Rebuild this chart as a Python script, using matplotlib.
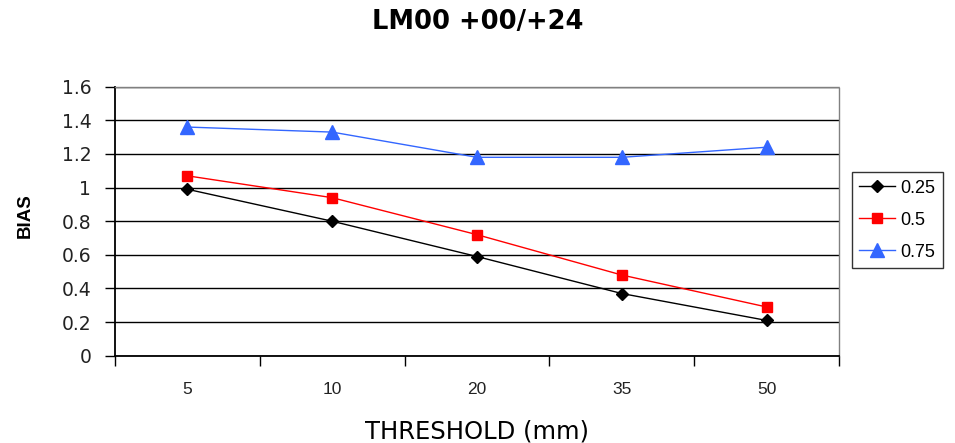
import matplotlib
matplotlib.use("Agg")
import matplotlib.pyplot as plt
from matplotlib.ticker import FixedLocator

plt.rcParams['font.family'] = ['Liberation Sans', 'DejaVu Sans']

thresholds = ["5", "10", "20", "35", "50"]
bias_025 = [0.99, 0.80, 0.59, 0.37, 0.21]
bias_050 = [1.07, 0.94, 0.72, 0.48, 0.29]
bias_075 = [1.36, 1.33, 1.18, 1.18, 1.24]
series_names = ["0.25", "0.5", "0.75"]
y_ticks = [0, 0.2, 0.4, 0.6, 0.8, 1.0, 1.2, 1.4, 1.6]
y_tick_labels = ["0", "0.2", "0.4", "0.6", "0.8", "1", "1.2", "1.4", "1.6"]

fig = plt.figure(figsize=(9.55, 4.43), dpi=100)
ax = fig.add_axes([0.1204, 0.197, 0.7581, 0.6073])

x = list(range(len(thresholds)))
ax.plot(x, bias_025, color="black", marker="D", markersize=6.5, lw=1, label=series_names[0], zorder=3)
ax.plot(x, bias_050, color="#ff0000", marker="s", markersize=7.5, lw=1, label=series_names[1], zorder=3)
ax.plot(x, bias_075, color="#3366ff", marker="^", markersize=9.5, lw=1, label=series_names[2], zorder=3)

ax.set_xlim(-0.5, len(thresholds) - 0.5)
ax.set_ylim(0, 1.6)
ax.set_xticks(x)
ax.set_xticklabels(thresholds, fontsize=12.5, color="#222222")
ax.xaxis.set_minor_locator(FixedLocator([i - 0.5 for i in range(len(thresholds) + 1)]))
ax.tick_params(axis="x", which="major", length=0, pad=19)
ax.tick_params(axis="x", which="minor", length=7, width=1, color="black", direction="out")
ax.set_yticks(y_ticks)
ax.set_yticklabels(y_tick_labels, fontsize=13.5, family="DejaVu Sans", color="#222222")
ax.tick_params(axis="y", length=7, width=1, direction="out", pad=10)

ax.grid(axis="y", color="black", lw=1, zorder=1)
for s in ["top", "right"]:
    ax.spines[s].set_color("#808080")
    ax.spines[s].set_linestyle((0, (1, 1)))
    ax.spines[s].set_linewidth(1)
ax.spines["left"].set_linewidth(1.3)
ax.spines["bottom"].set_linewidth(1.3)

ax.set_xlabel("THRESHOLD (mm)", fontsize=17.5, family="DejaVu Sans", va="center")
ax.xaxis.set_label_coords(0.5, -0.28)
ax.set_ylabel("BIAS", fontsize=13.5, fontweight="bold", va="center")
ax.yaxis.set_label_coords(-0.124, 0.52)
fig.text(0.5, 0.950, "LM00 +00/+24", ha="center", va="center", fontsize=18.5,
         fontweight="bold", family="DejaVu Sans")

leg = ax.legend(loc="center left", bbox_to_anchor=(1.018, 0.504), frameon=True,
                fancybox=False, edgecolor="black", handlelength=2.0, borderpad=0.4,
                labelspacing=0.83, handletextpad=0.3, borderaxespad=0,
                prop={"family": "Liberation Sans", "size": 13})
leg.get_frame().set_linewidth(1)

fig.savefig("out.png", dpi=100)
